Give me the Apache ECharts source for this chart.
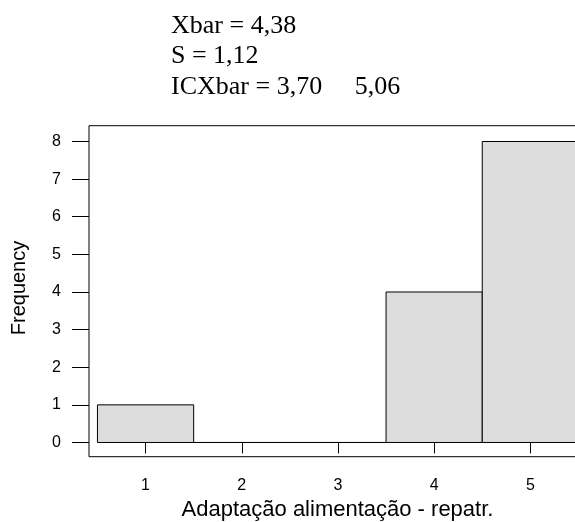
<!DOCTYPE html>
<html>
<head>
<meta charset="utf-8">
<script src="https://cdn.jsdelivr.net/npm/echarts@6/dist/echarts.min.js"></script>
<style>html,body{margin:0;padding:0;background:#fff}#c{width:575px;height:522px}</style>
</head>
<body>
<div id="c"></div>
<script>
// Histogram data
const breaks = [0.5, 1.5, 2.5, 3.5, 4.5, 5.5];
const counts = [1, 0, 0, 4, 8];
const xTicks = [1, 2, 3, 4, 5];
const yTicks = [0, 1, 2, 3, 4, 5, 6, 7, 8];
const statLines = ['Xbar = 4,38', 'S = 1,12', 'ICXbar = 3,70     5,06'];
const xTitle = 'Adaptação alimentação - repatr.';
const yTitle = 'Frequency';

const bins = counts.map((c, i) => [breaks[i], breaks[i + 1], c]);

const chart = echarts.init(document.getElementById('c'), null, {renderer: 'canvas'});
const sans = 'Liberation Sans, Arial, sans-serif';
const serif = 'Liberation Serif, Times New Roman, serif';

const graphics = statLines.map((t, i) => ({
  type: 'text', left: 171, top: 13 + i * 30.5,
  style: {text: t, font: '26px ' + serif, fill: '#000'}
}));
graphics.push({
  type: 'text', x: 337.5, y: 510,
  style: {text: xTitle, font: '22px ' + sans, fill: '#000', align: 'center', verticalAlign: 'middle'}
});
graphics.push({
  type: 'text', x: 19, y: 288, rotation: Math.PI / 2,
  style: {text: yTitle, font: '20px ' + sans, fill: '#000', align: 'center', verticalAlign: 'middle'}
});

const rich = {t: {fontSize: 16, fontFamily: 'Liberation Sans', color: '#000', lineHeight: 16}};
const fmt = v => '{t|' + v + '}';

chart.setOption({
  animation: false,
  backgroundColor: '#fff',
  grid: {left: 89, top: 125.7, bottom: 65.3, right: -22.7, outerBoundsMode: 'none', containLabel: false, show: true, borderColor: '#000', borderWidth: 1, backgroundColor: 'transparent'},
  xAxis: {
    type: 'value', min: 0.412, max: 5.7,
    axisLine: {show: false},
    splitLine: {show: false},
    axisTick: {show: true, length: 11, lineStyle: {color: '#000'}, customValues: xTicks},
    axisLabel: {customValues: xTicks, margin: 21, fontSize: 16, color: '#000', formatter: fmt, rich: rich}
  },
  yAxis: {
    type: 'value', min: -0.378, max: 8.42,
    axisLine: {show: false},
    splitLine: {show: false},
    axisTick: {show: true, length: 17, lineStyle: {color: '#000'}, customValues: yTicks},
    axisLabel: {customValues: yTicks, margin: 28, fontSize: 16, color: '#000', formatter: fmt, rich: rich}
  },
  graphic: graphics,
  series: [{
    type: 'custom',
    data: bins,
    encode: {x: [0, 1], y: 2},
    clip: false,
    renderItem: function (params, api) {
      const p0 = api.coord([api.value(0), 0]);
      const p1 = api.coord([api.value(1), api.value(2)]);
      return {
        type: 'polygon',
        shape: {points: [[p0[0], p0[1]], [p1[0], p0[1]], [p1[0], p1[1]], [p0[0], p1[1]]]},
        style: {fill: '#dddddd', stroke: '#000', lineWidth: 1}
      };
    }
  }]
});
</script>
</body>
</html>
